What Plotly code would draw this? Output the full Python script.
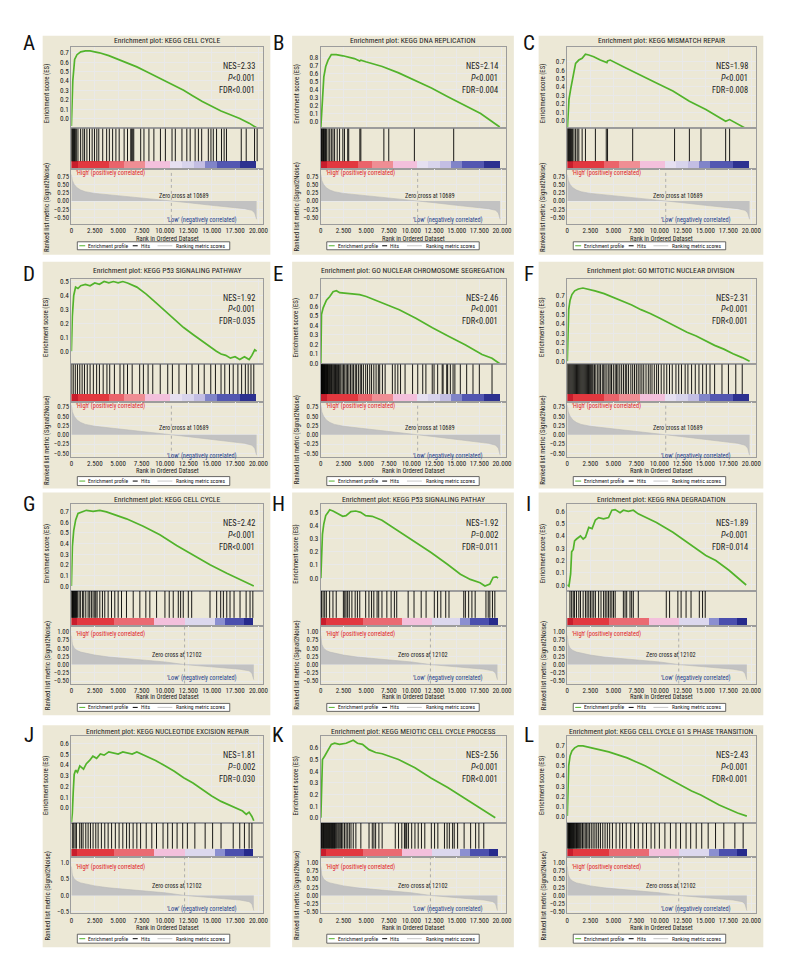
import plotly.graph_objects as go

# ---------------- data ----------------
letters = ["A", "B", "C", "D", "E", "F", "G", "H", "I", "J", "K", "L"]
titles = [
    "Enrichment plot: KEGG CELL CYCLE",
    "Enrichment plot: KEGG DNA REPLICATION",
    "Enrichment plot: KEGG MISMATCH REPAIR",
    "Enrichment plot: KEGG P53 SIGNALING PATHWAY",
    "Enrichment plot: GO NUCLEAR CHROMOSOME SEGREGATION",
    "Enrichment plot: GO MITOTIC NUCLEAR DIVISION",
    "Enrichment plot: KEGG CELL CYCLE",
    "Enrichment plot: KEGG P53 SIGNALING PATHAY",
    "Enrichment plot: KEGG RNA DEGRADATION",
    "Enrichment plot: KEGG NUCLEOTIDE EXCISION REPAIR",
    "Enrichment plot: KEGG MEIOTIC CELL CYCLE PROCESS",
    "Enrichment plot: KEGG CELL CYCLE G1 S PHASE TRANSITION",
]
nes_vals = ["2.33", "2.14", "1.98", "1.92", "2.46", "2.31", "2.42", "1.92", "1.89", "1.81", "2.56", "2.43"]
p_vals = ["<0.001", "<0.001", "<0.001", "<0.001", "<0.001", "<0.001",
          "<0.001", "=0.002", "<0.001", "=0.002", "<0.001", "<0.001"]
fdr_vals = ["<0.001", "=0.004", "=0.008", "=0.035", "<0.001", "<0.001",
            "<0.001", "=0.011", "=0.014", "=0.030", "<0.001", "<0.001"]
zero_cross = [10689, 10689, 10689, 10689, 10689, 10689, 12102, 12102, 12102, 12102, 12102, 12102]
es_tick_max = [0.7, 0.8, 0.7, 0.5, 0.7, 0.7, 0.7, 0.5, 0.6, 0.6, 0.6, 0.7]
es_ranges = [(-0.106, 0.764), (-0.088, 0.938), (-0.095, 0.878), (-0.093, 0.521), (-0.012, 0.888), (-0.03, 0.88),
             (-0.047, 0.765), (-0.098, 0.56), (-0.049, 0.657), (-0.139, 0.665), (-0.043, 0.70), (-0.067, 0.796)]

# running enrichment scores (rank, ES)
es_rank_a = [0, 150, 350, 600, 1000, 1500, 2000, 2500, 3000, 4000, 5000, 6000, 7000, 8000, 9000, 10000,
             11000, 12000, 13000, 14000, 15000, 16000, 17000, 18000, 19000, 19800]
es_score_a = [-0.08, 0.40, 0.63, 0.68, 0.71, 0.72, 0.72, 0.71, 0.70, 0.67, 0.63, 0.59, 0.55, 0.50, 0.45, 0.40,
              0.35, 0.30, 0.24, 0.18, 0.13, 0.08, 0.04, 0.00, -0.05, -0.10]
es_rank_b = [0, 180, 330, 540, 800, 1160, 1700, 2430, 2970, 3700, 4300, 4420, 4960, 6780, 8590, 10400,
             12210, 14020, 15830, 17640, 19750]
es_score_b = [-0.08, 0.35, 0.56, 0.69, 0.77, 0.84, 0.84, 0.825, 0.81, 0.79, 0.76, 0.77, 0.75, 0.69, 0.61, 0.52,
              0.42, 0.31, 0.21, 0.10, -0.07]
es_rank_c = [0, 180, 360, 540, 720, 900, 1250, 1610, 1970, 2330, 2870, 3580, 4300, 4370, 4660, 6090, 7880,
             9680, 11470, 13260, 15050, 16850, 17200, 17630, 17900, 19710]
es_score_c = [-0.11, 0.25, 0.37, 0.50, 0.58, 0.68, 0.72, 0.74, 0.79, 0.78, 0.76, 0.72, 0.69, 0.71, 0.72, 0.64, 0.54,
              0.445, 0.35, 0.23, 0.13, 0.01, -0.01, 0.01, -0.005, -0.115]
es_rank_d = [0, 100, 250, 450, 700, 1000, 1500, 2000, 2500, 3000, 3500, 4000, 4500, 5000, 5500, 6000, 7000,
             8000, 9000, 10000, 11000, 12000, 13000, 14000, 14800, 15500, 16000, 16500, 17000, 17500, 18000,
             18500, 19000, 19300, 19600, 19800]
es_score_d = [0.0, 0.25, 0.40, 0.46, 0.45, 0.47, 0.48, 0.47, 0.49, 0.48, 0.50, 0.49, 0.50, 0.49, 0.50, 0.49, 0.46,
              0.41, 0.35, 0.29, 0.23, 0.17, 0.12, 0.07, 0.03, 0.0, -0.02, -0.03, -0.05, -0.04, -0.06,
              -0.04, -0.06, -0.03, 0.01, 0.0]
es_rank_e = [0, 73, 256, 620, 990, 1350, 1720, 2080, 3180, 4280, 5010, 6840, 8660, 10490, 12320, 14150,
             15980, 17800, 18900, 19800]
es_score_e = [0.0, 0.51, 0.58, 0.66, 0.70, 0.75, 0.76, 0.74, 0.73, 0.72, 0.70, 0.63, 0.56, 0.47, 0.37, 0.28,
              0.19, 0.09, 0.05, -0.01]
es_rank_f = [0, 50, 150, 300, 500, 800, 1200, 1700, 2200, 3000, 4000, 5000, 6000, 7000, 8000, 9000, 10000,
             11000, 12000, 13000, 14000, 15000, 16000, 17000, 18000, 19000, 19800]
es_score_f = [0.0, 0.35, 0.55, 0.65, 0.71, 0.75, 0.77, 0.78, 0.77, 0.75, 0.72, 0.68, 0.64, 0.60, 0.55, 0.51, 0.46,
              0.41, 0.36, 0.31, 0.27, 0.22, 0.17, 0.13, 0.08, 0.04, 0.0]
es_rank_g = [0, 107, 250, 460, 710, 1070, 1600, 2320, 3040, 3750, 4820, 5890, 7680, 9460, 11250, 13040,
             14820, 16610, 18390, 19500]
es_score_g = [0.0, 0.37, 0.52, 0.62, 0.68, 0.695, 0.71, 0.70, 0.71, 0.695, 0.66, 0.63, 0.56, 0.48, 0.38, 0.29,
              0.20, 0.12, 0.05, 0.0]
es_rank_h = [0, 72, 180, 325, 540, 800, 975, 1340, 1880, 2420, 2780, 3320, 3860, 4400, 4950, 5670, 6750,
             8560, 10360, 12170, 13970, 15410, 16500, 17580, 18120, 18660, 19020, 19390, 19570]
es_score_h = [0.0, 0.21, 0.335, 0.41, 0.475, 0.50, 0.52, 0.51, 0.49, 0.47, 0.475, 0.505, 0.51, 0.50, 0.475, 0.47,
              0.44, 0.36, 0.28, 0.195, 0.105, 0.03, -0.01, -0.035, -0.06, -0.045, 0.005, 0.01, 0.0]
es_rank_i = [0, 180, 360, 470, 645, 790, 1000, 1250, 1430, 1720, 1970, 2330, 2690, 3050, 3400, 3940, 4480,
             4840, 5200, 5730, 6090, 6630, 7170, 7700, 8600, 9680, 11470, 13260, 15050, 16130, 17560, 19430]
es_score_i = [0.0, -0.01, 0.09, 0.27, 0.29, 0.36, 0.375, 0.39, 0.40, 0.375, 0.39, 0.47, 0.46, 0.53, 0.55, 0.54,
              0.55, 0.61, 0.615, 0.59, 0.61, 0.60, 0.61, 0.58, 0.55, 0.51, 0.43, 0.335, 0.24, 0.20, 0.12, 0.0]
es_rank_j = [0, 100, 200, 300, 450, 650, 900, 1100, 1300, 1600, 1950, 2300, 2700, 3100, 3500, 4000, 4500,
             5000, 5500, 6000, 6500, 7000, 7500, 8000, 9000, 10000, 11000, 12000, 13000, 14000, 15000,
             16000, 17000, 17800, 18300, 18700, 19000, 19300, 19500]
es_score_j = [-0.14, -0.05, 0.15, 0.31, 0.35, 0.33, 0.39, 0.37, 0.36, 0.41, 0.44, 0.48, 0.46, 0.50, 0.49, 0.52,
              0.51, 0.50, 0.52, 0.51, 0.50, 0.52, 0.50, 0.48, 0.44, 0.39, 0.34, 0.28, 0.23, 0.17, 0.11,
              0.06, 0.02, -0.01, -0.03, -0.06, -0.04, -0.08, -0.12]
es_rank_k = [0, 72, 180, 430, 800, 1160, 1520, 2060, 2790, 3330, 3580, 4050, 4600, 5320, 6050, 6770, 8580,
             10390, 12200, 14010, 15820, 17630, 19260]
es_score_k = [0.0, 0.21, 0.50, 0.53, 0.585, 0.63, 0.64, 0.63, 0.64, 0.66, 0.665, 0.64, 0.63, 0.585, 0.56, 0.55,
              0.50, 0.43, 0.34, 0.26, 0.17, 0.085, 0.0]
es_rank_l = [0, 50, 150, 300, 500, 800, 1200, 1700, 2200, 2800, 3500, 4500, 5500, 6500, 7500, 8500, 9500,
             10500, 11500, 12500, 13500, 14500, 15500, 16500, 17500, 18500, 19500]
es_score_l = [0.0, 0.30, 0.50, 0.60, 0.65, 0.68, 0.70, 0.70, 0.69, 0.68, 0.66, 0.64, 0.61, 0.58, 0.54, 0.50, 0.45,
              0.40, 0.35, 0.30, 0.25, 0.21, 0.16, 0.11, 0.07, 0.03, 0.0]

# hit positions (rank of each gene of the set)
hits_a = [0, 70, 140, 210, 280, 350, 420, 530, 705, 990, 1230, 1410, 1660, 1940, 2220, 2470, 2720, 2930,
          3350, 3770, 4060, 4410, 4760, 5110, 5640, 6000, 6350, 6450, 6560, 6670, 7410, 7760, 8290, 8820,
          9520, 10050, 10760, 11110, 11820, 12340, 12700, 13230, 13580, 13930, 14640, 14920, 15170, 15520,
          16050, 16330, 16580, 18160, 18690, 19580, 19860]
hits_b = [0, 70, 145, 215, 290, 360, 435, 510, 615, 800, 980, 1160, 1340, 1520, 1810, 2070, 2430, 2610,
          2970, 3080, 4310, 4420, 6960, 7500, 10330, 14670]
hits_c = [0, 70, 145, 215, 285, 360, 465, 575, 720, 900, 1075, 1250, 1610, 1970, 3050, 4230, 4370, 7100,
          11650, 13260, 14520, 17200, 17630]
hits_d = [30, 200, 420, 650, 900, 1150, 1400, 1700, 2000, 2350, 2700, 3000, 3400, 3800, 4100, 4600, 5200,
          5600, 6000, 6500, 7300, 7700, 8200, 8700, 9500, 10300, 10800, 11500, 12300, 12900, 13600, 14200,
          14900, 15400, 16000, 16400, 16900, 17300, 17800, 18200, 18600, 18900, 19200, 19500]
hits_e = [0, 40, 80, 120, 160, 200, 250, 300, 350, 400, 450, 500, 560, 620, 680, 740, 800, 870, 940, 1010,
          1090, 1170, 1250, 1340, 1430, 1520, 1620, 1720, 1830, 1950, 2080, 2200, 2350, 2500, 2640, 2800,
          2950, 3100, 3280, 3450, 3600, 3800, 3950, 4150, 4350, 4500, 4700, 4950, 5150, 5400, 5600, 5850,
          6100, 6350, 6500, 6800, 7100, 7900, 8200, 8500, 8800, 9300, 10130, 10700, 11250, 11600, 12300,
          12500, 12900, 13400, 13500, 13900, 14000, 14300, 14600, 14800, 15400, 16100, 16800, 17500, 18900]
hits_f = [0, 100, 200, 300, 400, 500, 600, 700, 800, 900, 1000, 1100, 1200, 1300, 1400, 1500, 1600, 1700,
          1800, 1900, 2000, 2100, 2200, 2300, 2400, 2500, 2600, 2700, 2800, 2950, 3100, 3300, 3450, 3600,
          3800, 3950, 4100, 4300, 4500, 4650, 4800, 5000, 5200, 5350, 5500, 5700, 5900, 6100, 6300, 6450,
          6650, 6900, 7100, 7300, 7500, 7700, 7900, 8100, 8300, 8550, 8800, 9000, 9200, 9450, 9700, 9900,
          10200, 10500, 10800, 11100, 11400, 11800, 12100, 12400, 12800, 13100, 13500, 13900, 14300, 14700,
          15100, 15500, 16000, 16800, 17500, 18300, 19000]
hits_g = [0, 60, 120, 180, 240, 300, 360, 420, 480, 540, 640, 820, 960, 1180, 1320, 1540, 1790, 1960, 2140,
          2320, 2500, 2610, 2750, 3040, 3320, 3570, 3930, 4290, 4640, 5000, 5360, 5890, 6610, 7320, 7960,
          8390, 9110, 10000, 10460, 10890, 11430, 11680, 11960, 12500, 12860, 14820, 15530, 15960, 16250,
          16610, 16960, 17390, 18030, 18680, 19100, 19400]
hits_h = [70, 250, 430, 610, 975, 1340, 1700, 2490, 2640, 2780, 2960, 3140, 3430, 3790, 4040, 4300, 4950,
          5310, 5600, 5850, 6210, 6390, 6750, 7290, 7760, 8120, 8380, 9640, 10290, 11080, 11620, 12530,
          12890, 13250, 13790, 14150, 15780, 15960, 16320, 16680, 17040, 18230, 18480, 18660, 18950, 19210]
hits_i = [290, 470, 645, 790, 1000, 1250, 1430, 1720, 1970, 2150, 2330, 2510, 2690, 2870, 3050, 3400, 3660,
          3940, 4120, 4300, 4480, 4660, 4840, 5020, 5200, 6090, 6270, 6450, 6810, 6990, 7170, 7710, 10750,
          11110, 12010, 12360, 12900, 13440, 14340, 14690, 14980]
hits_j = [100, 250, 400, 540, 890, 1070, 1250, 1540, 1790, 2040, 2320, 2610, 2860, 3210, 3570, 3930, 4300,
          4700, 5100, 5500, 5900, 6200, 6600, 7000, 7400, 8000, 8600, 9100, 9800, 10300, 10800, 11300,
          11900, 12400, 13200, 14300, 15100, 16000, 17300, 18000, 18500, 19000, 19300]
hits_k = [0, 70, 140, 210, 290, 360, 430, 500, 580, 650, 720, 800, 870, 940, 1010, 1090, 1160, 1230, 1300,
          1380, 1450, 1520, 1600, 1700, 1800, 1920, 2030, 2150, 2280, 2430, 2610, 2790, 2970, 3150, 3330,
          3580, 3870, 4420, 5320, 5680, 5860, 6050, 6410, 6770, 8220, 8580, 8940, 9230, 9380, 9480, 9670,
          10030, 10390, 10750, 11110, 11480, 12200, 12560, 12920, 13650, 13940, 14190, 14550, 14730, 15100,
          15820, 16540, 17090, 17450, 17990]
hits_l = [0, 60, 120, 180, 240, 300, 360, 420, 480, 540, 600, 680, 760, 840, 920, 1000, 1100, 1200, 1300,
          1400, 1500, 1650, 1800, 1950, 2100, 2250, 2400, 2600, 2800, 3000, 3200, 3400, 3600, 3850, 4100,
          4350, 4600, 4900, 5300, 5700, 6000, 6400, 6900, 7300, 7700, 8200, 8600, 9100, 9500, 10000, 10600,
          11200, 11800, 12300, 12900, 13400, 14000, 14600, 15300, 16100, 17000, 18200, 19100]

# ranked list metric (Signal2Noise) of the two datasets
metric_rank_1 = [0, 100, 300, 600, 1000, 1500, 2500, 4000, 6000, 8000, 10000, 10689, 12500, 15000, 17000,
                 18500, 19300, 19600, 19800]
metric_val_1 = [0.80, 0.62, 0.50, 0.40, 0.33, 0.28, 0.23, 0.19, 0.14, 0.09, 0.03, 0.0, -0.05, -0.13, -0.18,
                -0.23, -0.28, -0.36, -0.55]
metric_rank_2 = [0, 100, 300, 600, 1000, 1600, 2500, 4000, 6000, 8000, 10000, 12102, 14000, 16000, 18000,
                 19000, 19300, 19500]
metric_val_2 = [0.88, 0.62, 0.50, 0.43, 0.38, 0.34, 0.29, 0.23, 0.18, 0.14, 0.08, 0.0, -0.05, -0.09, -0.14,
                -0.19, -0.26, -0.46]

# red-to-blue heat bar under the hits
heat_edges_1 = [0, 700, 4070, 5660, 7960, 10620, 11860, 13100, 14340, 15570, 18050, 19800]
heat_colors_1 = ["#c81d2c", "#e2383f", "#ea646b", "#ef8e94", "#f3c0dc", "#e6e0f1", "#d8d4ec", "#c3bee3",
                 "#8084c8", "#5357b1", "#2d3190"]
heat_edges_2 = [0, 600, 4600, 8900, 12200, 15400, 16500, 18500, 19500]
heat_colors_2 = ["#c81d2c", "#e2383f", "#ea6a72", "#f3c0dc", "#dcd8ee", "#8b8fd0", "#4b4fae", "#262a8c"]

x_tick_vals = [0, 2500, 5000, 7500, 10000, 12500, 15000, 17500, 20000]
x_tick_text = ["0", "2.500", "5.000", "7.500", "10.000", "12.500", "15.000", "17.500", "20.000"]

es_rank = [es_rank_a, es_rank_b, es_rank_c, es_rank_d, es_rank_e, es_rank_f,
           es_rank_g, es_rank_h, es_rank_i, es_rank_j, es_rank_k, es_rank_l]
es_score = [es_score_a, es_score_b, es_score_c, es_score_d, es_score_e, es_score_f,
            es_score_g, es_score_h, es_score_i, es_score_j, es_score_k, es_score_l]
hits = [hits_a, hits_b, hits_c, hits_d, hits_e, hits_f, hits_g, hits_h, hits_i, hits_j, hits_k, hits_l]

# ---------------- layout (pixels) ----------------
W, H = 792, 972
XMAX = 20450
FONT = "Roboto Condensed, Liberation Sans Narrow, DejaVu Sans Condensed, Roboto, sans-serif"
GREEN = "#52b32b"
FRAME = "#9c9c9c"
GRID = "#e9e9e9"
BEIGE = "#ece8d6"

ROWS = [
    dict(bg=(26, 246), title=31, es=(37, 119), hits=(119, 160), met=(160, 215), xtitle=230, leg=(233, 241), letter=33, high=164),
    dict(bg=(253, 481), title=262, es=(270, 356), hits=(356, 394), met=(394, 449), xtitle=463, leg=(469, 478), letter=265, high=398),
    dict(bg=(485, 709), title=492, es=(497, 584), hits=(584, 619), met=(619, 677), xtitle=691, leg=(697, 705), letter=497, high=627),
    dict(bg=(719, 942), title=725, es=(730, 817), hits=(817, 851), met=(851, 908), xtitle=923, leg=(929, 938), letter=729, high=861),
]
COLS = [dict(left=62, px20=251, letter=19), dict(left=314, px20=497, letter=271), dict(left=563, px20=749, letter=524)]


def fx(p):
    return p / W


def fy(p):
    return 1 - p / H


def names(k):
    s = "" if k == 1 else str(k)
    return "xaxis" + s, "yaxis" + s, "x" + s, "y" + s


fig = go.Figure()
lay = {}
shapes = []
annos = []


def text(x, y, s, size, color="#222", xanchor="center", angle=0, xref="paper", yref="paper"):
    annos.append(dict(x=x, y=y, xref=xref, yref=yref, text=s, showarrow=False, xanchor=xanchor,
                      yanchor="middle", textangle=angle, font=dict(family=FONT, size=size, color=color)))


for i in range(12):
    r, c = divmod(i, 3)
    R, C = ROWS[r], COLS[c]
    left = C["left"]
    right = left + (C["px20"] - left) * XMAX / 20000
    second = r >= 2
    mrank = metric_rank_2 if second else metric_rank_1
    mval = metric_val_2 if second else metric_val_1
    edges = heat_edges_2 if second else heat_edges_1
    hcols = heat_colors_2 if second else heat_colors_1

    # beige panel
    shapes.append(dict(type="rect", xref="paper", yref="paper", layer="below",
                       x0=fx(left - 29), x1=fx(C["px20"] + 12), y0=fy(R["bg"][1]), y1=fy(R["bg"][0]),
                       fillcolor=BEIGE, line=dict(width=0)))

    k_es, k_hit, k_met = 3 * i + 1, 3 * i + 2, 3 * i + 3
    xa_es, ya_es, xr_es, yr_es = names(k_es)
    xa_h, ya_h, xr_h, yr_h = names(k_hit)
    xa_m, ya_m, xr_m, yr_m = names(k_met)

    base_x = dict(domain=[fx(left), fx(right)], range=[0, XMAX], showline=True, mirror=True,
                  linecolor=FRAME, linewidth=1, zeroline=False, tickvals=x_tick_vals, fixedrange=True)
    lay[xa_es] = dict(base_x, anchor=yr_es, showticklabels=False, showgrid=True, gridcolor=GRID, ticks="")
    lay[xa_h] = dict(base_x, anchor=yr_h, showticklabels=False, showgrid=False, ticks="")
    lay[xa_m] = dict(base_x, anchor=yr_m, showticklabels=True, ticktext=x_tick_text, showgrid=True,
                     gridcolor=GRID, ticks="", tickangle=0,
                     tickfont=dict(family=FONT, size=7, color="#222"))

    # ES axis
    top = es_tick_max[i]
    n_t = int(round(top * 10)) + 1
    ev = [j / 10 for j in range(n_t)]
    lay[ya_es] = dict(domain=[fy(R["es"][1]), fy(R["es"][0])], range=list(es_ranges[i]), anchor=xr_es,
                      showline=True, mirror=True, linecolor=FRAME, linewidth=1, zeroline=False,
                      tickvals=ev, ticktext=["%.1f" % v for v in ev], showgrid=True, gridcolor=GRID,
                      ticks="", tickfont=dict(family=FONT, size=7.2, color="#222"), fixedrange=True)
    # hits axis
    lay[ya_h] = dict(domain=[fy(R["hits"][1]), fy(R["hits"][0])], range=[0, 1], anchor=xr_h,
                     showline=True, mirror=True, linecolor=FRAME, linewidth=1, zeroline=False,
                     showticklabels=False, showgrid=False, ticks="", fixedrange=True)
    # metric axis
    if i == 9:
        mv = [-0.5, 0.0, 0.5, 1.0]
        mt = ["\u22120.5", "0.0", "0.5", "1.0"]
        mrange = [-0.545, 1.18]
    elif second:
        mv = [-0.5, -0.25, 0.0, 0.25, 0.5, 0.75, 1.0]
        mt = ["\u22120.50", "\u22120.25", "0.00", "0.25", "0.50", "0.75", "1.00"]
        mrange = [-0.576, 1.18] if r == 2 else [-0.545, 1.18]
    else:
        mv = [-0.5, -0.25, 0.0, 0.25, 0.5, 0.75]
        mt = ["\u22120.50", "\u22120.25", "0.00", "0.25", "0.50", "0.75"]
        mrange = [-0.69, 0.96] if r == 0 else [-0.59, 0.884]
    lay[ya_m] = dict(domain=[fy(R["met"][1]), fy(R["met"][0])], range=mrange, anchor=xr_m,
                     showline=True, mirror=True, linecolor=FRAME, linewidth=1, zeroline=False,
                     tickvals=mv, ticktext=mt, showgrid=True, gridcolor=GRID, ticks="",
                     tickfont=dict(family=FONT, size=6.8, color="#222"), fixedrange=True)

    # ES curve
    fig.add_trace(go.Scatter(x=es_rank[i], y=es_score[i], mode="lines", xaxis=xr_es, yaxis=yr_es,
                             line=dict(color=GREEN, width=1.7), showlegend=False, hoverinfo="skip"))

    # hits + heat bar
    cb_frac = 8 / (R["hits"][1] - R["hits"][0])
    hx, hy = [], []
    for h in hits[i]:
        hx += [h, h, None]
        hy += [cb_frac, 1, None]
    fig.add_trace(go.Scatter(x=hx, y=hy, mode="lines", xaxis=xr_h, yaxis=yr_h,
                             line=dict(color="black", width=0.9), showlegend=False, hoverinfo="skip"))
    mids = [(a + b) / 2 for a, b in zip(edges[:-1], edges[1:])]
    wids = [b - a for a, b in zip(edges[:-1], edges[1:])]
    fig.add_trace(go.Bar(x=mids, y=[cb_frac] * len(mids), width=wids, base=0, xaxis=xr_h, yaxis=yr_h,
                         marker=dict(color=hcols, line=dict(width=0)), showlegend=False, hoverinfo="skip"))

    # ranked list metric
    fig.add_trace(go.Scatter(x=mrank, y=mval, mode="lines", fill="tozeroy", fillcolor="#c2c2c2",
                             xaxis=xr_m, yaxis=yr_m, line=dict(color="#b8b8b8", width=0.6),
                             showlegend=False, hoverinfo="skip"))
    shapes.append(dict(type="line", xref=xr_m, yref=yr_m + " domain", x0=zero_cross[i], x1=zero_cross[i],
                       y0=0, y1=1, line=dict(color="#a0a0a0", width=0.8, dash="dot")))

    # texts
    text(fx(C["letter"]), fy(R["letter"]), letters[i], 21, "#111")
    text(fx((left + right) / 2), fy(R["title"]), titles[i], 7.6)
    es_top = R["es"][0]
    text(fx(right - 6), fy(es_top + 19), "NES=" + nes_vals[i], 8.4, xanchor="right")
    text(fx(right - 6), fy(es_top + 31), "<i>P</i>" + p_vals[i].replace("<", "&lt;"), 8.4, xanchor="right")
    text(fx(right - 6), fy(es_top + 43), "FDR" + fdr_vals[i].replace("<", "&lt;"), 8.4, xanchor="right")
    text(fx(left - 25), fy((R["es"][0] + R["es"][1]) / 2 + 6), "Enrichment score (ES)", 6.8, angle=-90)
    text(fx(left - 24), fy((R["met"][0] + R["met"][1]) / 2 + 11), "Ranked list metric (Signal2Noise)", 6.8, angle=-90)
    text(fx(left + 3), fy(R["high"]), "'High' (positively correlated)", 6.3, "#e0202a", xanchor="left")
    zc_x = 11300 if second else 12000
    zc_y = 0.30 if second else (0.15 if r == 0 else 0.17)
    text(zc_x, zc_y, "Zero cross at %d" % zero_cross[i], 6.3, xref=xr_m, yref=yr_m)
    low_y = -0.42 if second else -0.58
    text(14000, low_y, "'Low' (negatively correlated)", 6.3, "#23408e", xref=xr_m, yref=yr_m)
    text(fx((left + right) / 2), fy(R["xtitle"]), "Rank in Ordered Dataset", 6.6)

    # legend box
    ly0, ly1 = R["leg"]
    lmid = (ly0 + ly1) / 2
    shapes.append(dict(type="rect", xref="paper", yref="paper", x0=fx(left + 6), x1=fx(left + 160),
                       y0=fy(ly1), y1=fy(ly0), fillcolor="white", line=dict(color="#444", width=0.8)))
    for (a, b, col) in [(8, 14, GREEN), (62, 67, "black"), (87, 102, "#c8c8c8")]:
        shapes.append(dict(type="line", xref="paper", yref="paper", x0=fx(left + a), x1=fx(left + b),
                           y0=fy(lmid), y1=fy(lmid), line=dict(color=col, width=1)))
    text(fx(left + 15), fy(lmid), "Enrichment profile", 5.6, xanchor="left")
    text(fx(left + 68), fy(lmid), "Hits", 5.6, xanchor="left")
    text(fx(left + 104), fy(lmid), "Ranking metric scores", 5.6, xanchor="left")

fig.update_layout(
    width=W, height=H, autosize=False,
    margin=dict(l=0, r=0, t=0, b=0),
    paper_bgcolor="white", plot_bgcolor="white",
    showlegend=False, bargap=0,
    font=dict(family=FONT, size=7, color="#222"),
    shapes=shapes, annotations=annos,
    **lay,
)

fig.write_html("out.html")
